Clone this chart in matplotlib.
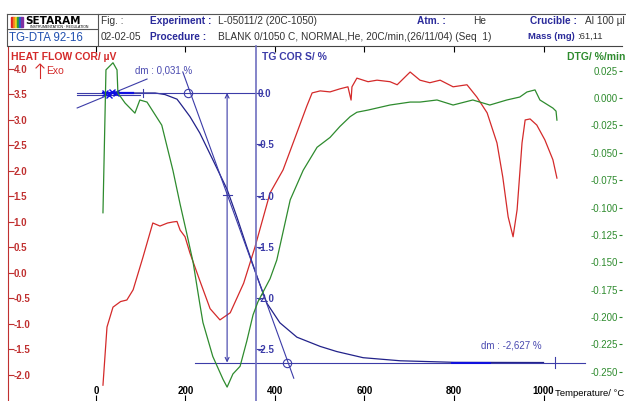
import matplotlib.pyplot as plt
from matplotlib.lines import Line2D
from matplotlib.patches import Rectangle

plt.rcParams['font.family'] = ['Liberation Sans', 'DejaVu Sans']

# heat flow curve (left axis, uV)
hf_temp = [15.6, 24.6, 38, 55, 69, 83, 105, 127, 143, 160, 172, 181, 188, 199, 210, 232,
           255, 277, 300, 330, 355, 389, 418, 449, 471, 483, 501, 523, 545, 563, 570, 572,
           583, 608, 628, 657, 673, 695, 702, 724, 746, 769, 798, 829, 851, 874, 896, 909,
           921, 932, 941, 952, 959, 970, 985, 1003, 1021, 1030]
hf_val = [-2.20, -1.06, -0.67, -0.56, -0.53, -0.33, 0.31, 0.98, 0.92, 0.98, 1.00, 1.01, 0.84,
          0.71, 0.39, -0.15, -0.70, -0.92, -0.78, -0.20, 0.50, 1.57, 2.02, 2.75, 3.27, 3.53,
          3.57, 3.55, 3.61, 3.65, 3.39, 3.65, 3.82, 3.75, 3.78, 3.75, 3.69, 3.88, 3.94, 3.78,
          3.73, 3.78, 3.65, 3.69, 3.45, 3.14, 2.55, 1.88, 1.10, 0.71, 1.24, 2.55, 3.00, 3.02,
          2.90, 2.61, 2.22, 1.86]

# DTG curve (right axis, %/min)
dtg_temp = [15.6, 22.3, 38, 47, 49, 65, 87, 98, 114, 147, 172, 188, 203, 217, 232, 239, 261,
            284, 293, 306, 322, 337, 351, 362, 389, 404, 434, 463, 494, 523, 545, 568, 583,
            608, 657, 702, 724, 762, 798, 842, 880, 918, 947, 963, 981, 992, 1021, 1028, 1030]
dtg_val = [-0.1048, 0.0257, 0.0322, 0.0257, 0.0046, -0.0046, -0.0138, -0.0018, -0.0037,
           -0.0248, -0.0662, -0.097, -0.124, -0.150, -0.188, -0.205, -0.236, -0.257, -0.264,
           -0.252, -0.245, -0.222, -0.198, -0.186, -0.165, -0.148, -0.093, -0.066, -0.045,
           -0.036, -0.026, -0.017, -0.013, -0.011, -0.0064, -0.0037, -0.0037, -0.0018, -0.0064,
           -0.0018, -0.0064, -0.0018, 0.0009, 0.0055, 0.0074, -0.0018, -0.0092, -0.012, -0.0202]

# TG curve (middle axis, %)
tg_temp = [15, 132, 154, 181, 188, 210, 232, 261, 293, 315, 337, 360, 382, 411, 449, 501,
           538, 597, 680, 800, 1000]
tg_val = [0.0, 0.0, -0.015, -0.06, -0.10, -0.23, -0.39, -0.65, -0.94, -1.21, -1.50, -1.79,
          -2.05, -2.24, -2.38, -2.47, -2.52, -2.58, -2.61, -2.625, -2.627]

x_ticks = [0, 200, 400, 600, 800, 1000]
hf_ticks = [-2.0, -1.5, -1.0, -0.5, 0.0, 0.5, 1.0, 1.5, 2.0, 2.5, 3.0, 3.5, 4.0]
tg_ticks = [0.0, -0.5, -1.0, -1.5, -2.0, -2.5]
dtg_ticks = [0.025, 0.0, -0.025, -0.05, -0.075, -0.1, -0.125, -0.15, -0.175, -0.2, -0.225, -0.25]

dm_start = 0.031
dm_total = -2.627

RED = '#d42a2a'
GREEN = '#2e8b2e'
NAVY = '#22228a'
BLUE = '#3c3ca8'

W, H = 626, 401
fig = plt.figure(figsize=(W / 100, H / 100), dpi=100)

def fx(px):
    return px / W

def fy(py):
    return 1 - py / H

ax = fig.add_axes([fx(8), 0, (622 - 8) / W, (401 - 46) / H])
ax.set_xlim(-196.6, 1175.4)
ax.set_ylim(-2.51, 4.45)
ax.plot(hf_temp, hf_val, color=RED, lw=0.9)

for s in ['right', 'bottom']:
    ax.spines[s].set_visible(False)
ax.spines['left'].set_color('#c03030')
ax.spines['top'].set_color('#444444')
ax.spines['top'].set_linewidth(0.8)

ax.set_xticks(x_ticks)
ax.set_xticklabels([str(t) for t in x_ticks])
ax.tick_params(axis='x', direction='in', length=4, top=True, bottom=True, pad=-11,
               labelsize=7, colors='black')
ax.set_yticks(hf_ticks)
ax.set_yticklabels(['%.1f' % v for v in hf_ticks])
ax.tick_params(axis='y', direction='in', length=4, pad=-4, labelsize=7,
               colors='#c03030')
for lab in ax.get_yticklabels():
    lab.set_horizontalalignment('left')
    lab.set_fontweight('bold')
for lab in ax.get_xticklabels():
    lab.set_fontweight('bold')

# TG axis in the middle
ax2 = ax.twinx()
ax2.set_ylim(-3.002, 0.458)
ax2.yaxis.set_ticks_position('left')
ax2.spines['left'].set_position(('axes', (256 - 8) / (622 - 8)))
ax2.spines['left'].set_visible(True)
ax2.spines['left'].set_color('#7070c0')
ax2.spines['left'].set_linewidth(1.2)
for s in ['right', 'top', 'bottom']:
    ax2.spines[s].set_visible(False)
ax2.set_yticks(tg_ticks)
ax2.set_yticklabels(['%.1f' % v for v in tg_ticks])
ax2.tick_params(axis='y', direction='in', length=5, pad=-1, labelsize=7, colors=BLUE)
for lab in ax2.get_yticklabels():
    lab.set_horizontalalignment('left')
    lab.set_fontweight('bold')

ax2.plot(tg_temp, tg_val, color=NAVY, lw=0.9)
# construction lines for the step
ax2.plot([-42, 357], [0, 0], color=BLUE, lw=0.8)
ax2.plot([-42, 98], [-0.02, -0.02], color=BLUE, lw=0.8)
ax2.plot([-42, 114], [-0.146, 0.136], color=BLUE, lw=0.8)
ax2.plot([16, 83], [0, 0], color='#1010e0', lw=1.6)
ax2.plot([105, 105], [0.04, -0.04], color=BLUE, lw=0.8)
ax2.plot([20, 28, 36, 44], [0.0, -0.02, 0.01, 0.0], 'x', color='#1010e0', ms=4, mew=1)
ax2.plot([194, 442], [0.205, -2.78], color=BLUE, lw=0.8)
ax2.plot([206, 427], [0, dm_total], 'o', mfc='none', mec=BLUE, ms=6, mew=0.8)
ax2.annotate('', xy=(293, 0), xytext=(293, dm_total),
             arrowprops=dict(arrowstyle='<->', color=BLUE, lw=0.8,
                             mutation_scale=7, shrinkA=0, shrinkB=0))
ax2.plot([284, 304], [-0.99, -0.99], color=BLUE, lw=0.8)
ax2.plot([221, 1093], [dm_total, dm_total], color=BLUE, lw=0.8)
ax2.plot([795, 880], [dm_total, dm_total], color='#1010e0', lw=1.4)
ax2.plot([1026, 1026], [dm_total + 0.05, dm_total - 0.05], color=BLUE, lw=0.8)
ax2.text(88, 0.22, 'dm : %s %%' % str(dm_start).replace('.', ','), color='#4a4ab0',
         fontsize=7, va='center')
ax2.text(860, dm_total + 0.17, 'dm : %s %%' % str(dm_total).replace('.', ','),
         color='#4a4ab0', fontsize=7, va='center')

# DTG axis on the right
ax3 = ax.twinx()
ax3.set_ylim(-0.2767, 0.0475)
for s in ['left', 'right', 'top', 'bottom']:
    ax3.spines[s].set_visible(False)
ax3.set_yticks(dtg_ticks)
ax3.set_yticklabels(['%.3f' % v for v in dtg_ticks])
ax3.tick_params(axis='y', direction='in', length=2, pad=-3, labelsize=7, colors=GREEN)
for lab in ax3.get_yticklabels():
    lab.set_horizontalalignment('right')
ax3.plot(dtg_temp, dtg_val, color=GREEN, lw=0.9)

# axis titles
fig.text(fx(11), fy(57), 'HEAT FLOW COR/ µV', color=RED, fontsize=7.5,
         fontweight='bold', va='center')
fig.text(fx(46), fy(71), 'Exo', color=RED, fontsize=7.5, va='center')
fig.add_artist(Line2D([fx(40), fx(40)], [fy(78), fy(64)], color=RED, lw=0.8))
fig.add_artist(Line2D([fx(36), fx(40), fx(44)], [fy(68), fy(64), fy(68)], color=RED, lw=0.8))
fig.text(fx(262), fy(57), 'TG COR S/ %', color=BLUE, fontsize=7.5,
         fontweight='bold', va='center')
fig.text(fx(625), fy(57), 'DTG/ %/min', color=GREEN, fontsize=7.5,
         fontweight='bold', va='center', ha='right')
fig.text(fx(555), fy(393), 'Temperature/ °C', color='black', fontsize=6.8, va='center')

# header box
for x0, y0, x1, y1 in [(7, 14, 626, 14), (7, 14, 7, 46), (98, 14, 98, 46), (7, 29, 98, 29)]:
    fig.add_artist(Line2D([fx(x0), fx(x1)], [fy(y0), fy(y1)], color='#555555', lw=0.8))
for i, c in enumerate(['#e02020', '#f08020', '#f0d020', '#30a030', '#2060d0', '#8030a0']):
    fig.add_artist(Rectangle((fx(11 + 2 * i), fy(27)), 2 / W, 10 / H, color=c,
                             transform=fig.transFigure))
fig.text(fx(25), fy(20.5), 'SETARAM', fontsize=7.5, fontweight='bold', va='center',
         family='DejaVu Sans')
fig.text(fx(30), fy(26.5), 'INSTRUMENTATION · REGULATION', fontsize=2.5, va='center')
fig.text(fx(9), fy(38), 'TG-DTA 92-16', fontsize=8.3, color='#2050b0', va='center')

hdr = '#2a2a9a'
val = '#333333'
fig.text(fx(101), fy(21.5), 'Fig. :', fontsize=7.3, color=val, va='center')
fig.text(fx(150), fy(21.5), 'Experiment :', fontsize=7.3, color=hdr, va='center',
         fontweight='bold')
fig.text(fx(218), fy(21.5), 'L-05011/2 (20C-1050)', fontsize=7.3, color=val, va='center')
fig.text(fx(101), fy(36.5), '02-02-05', fontsize=7.3, color=val, va='center')
fig.text(fx(150), fy(36.5), 'Procedure :', fontsize=7.3, color=hdr, va='center',
         fontweight='bold')
fig.text(fx(218), fy(36.5), 'BLANK 0/1050 C, NORMAL,He, 20C/min,(26/11/04) (Seq  1)',
         fontsize=7.3, color=val, va='center')
fig.text(fx(417), fy(21.5), 'Atm. :', fontsize=7.3, color=hdr, va='center',
         fontweight='bold')
fig.text(fx(473), fy(21.5), 'He', fontsize=7.3, color=val, va='center')
fig.text(fx(530), fy(21.5), 'Crucible :', fontsize=7.3, color=hdr, va='center',
         fontweight='bold')
fig.text(fx(585), fy(21.5), 'Al 100 µl', fontsize=7.3, color=val, va='center')
fig.text(fx(528), fy(36.5), 'Mass (mg)', fontsize=6.8, color=hdr, va='center',
         fontweight='bold')
fig.text(fx(577), fy(36.5), ':61,11', fontsize=6.8, color=val, va='center')

fig.savefig('out.png', dpi=100)
